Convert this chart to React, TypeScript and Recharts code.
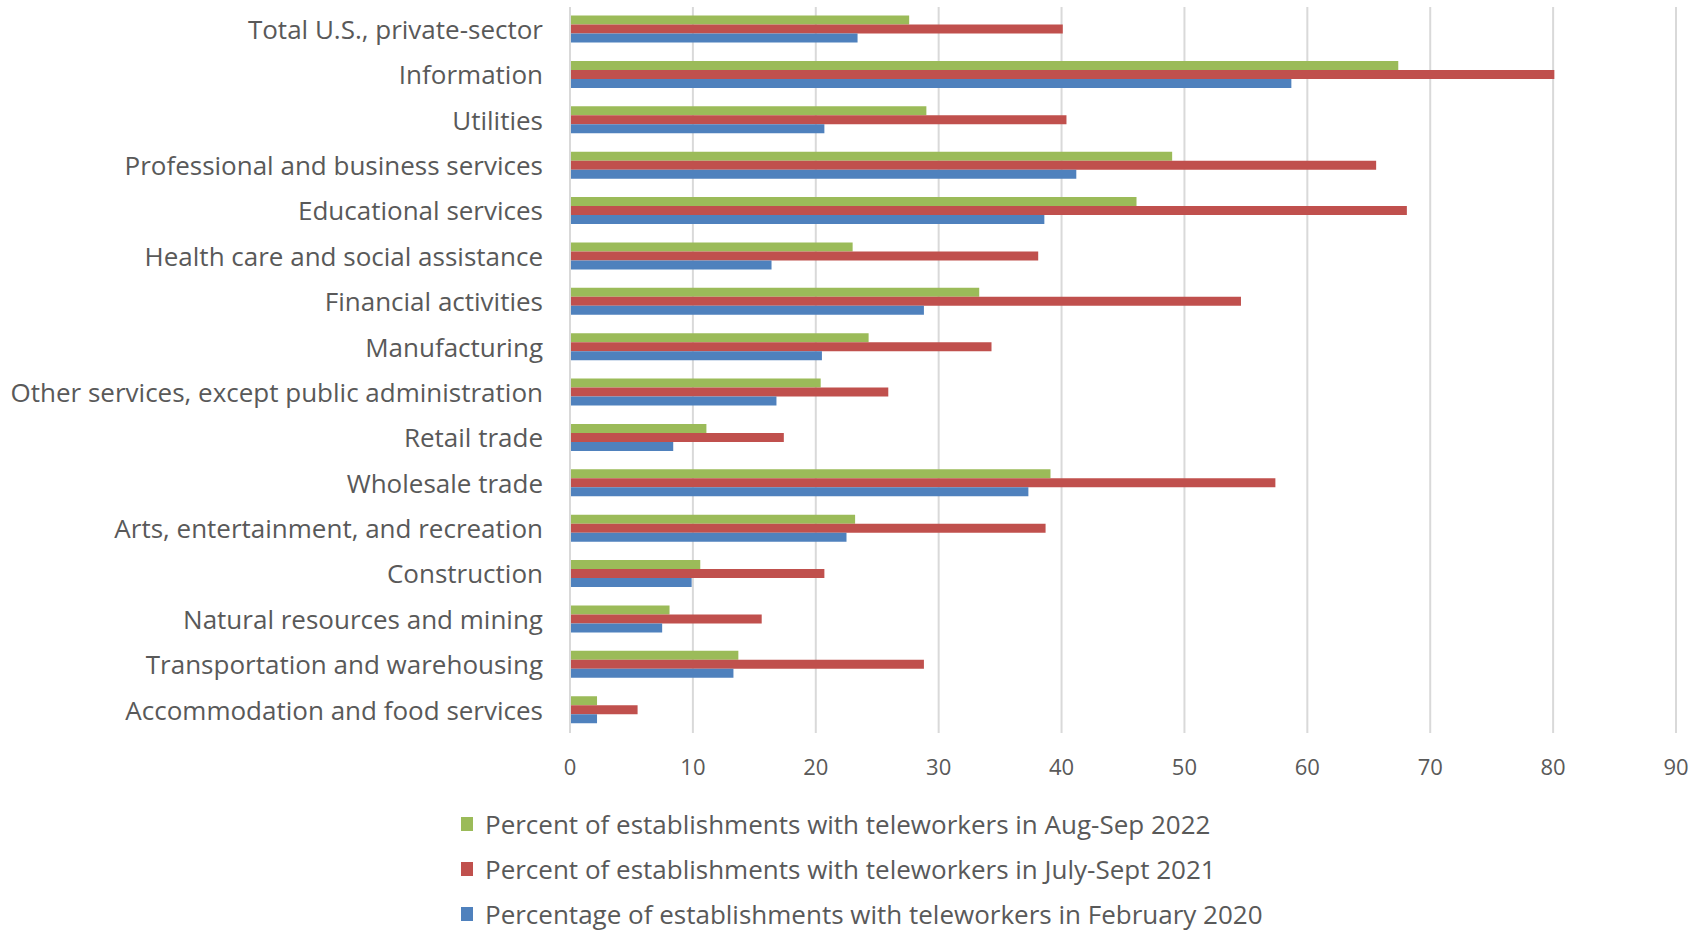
import React from 'react';
import {
  BarChart,
  Bar,
  XAxis,
  YAxis,
  CartesianGrid,
  Legend
} from 'recharts';

const categories = [
  'Total U.S., private-sector',
  'Information',
  'Utilities',
  'Professional and business services',
  'Educational services',
  'Health care and social assistance',
  'Financial activities',
  'Manufacturing',
  'Other services, except public administration',
  'Retail trade',
  'Wholesale trade',
  'Arts, entertainment, and recreation',
  'Construction',
  'Natural resources and mining',
  'Transportation and warehousing',
  'Accommodation and food services'
];

const aug2022 = [27.6, 67.4, 29.0, 49.0, 46.1, 23.0, 33.3, 24.3, 20.4, 11.1, 39.1, 23.2, 10.6, 8.1, 13.7, 2.2];
const jul2021 = [40.1, 80.1, 40.4, 65.6, 68.1, 38.1, 54.6, 34.3, 25.9, 17.4, 57.4, 38.7, 20.7, 15.6, 28.8, 5.5];
const feb2020 = [23.4, 58.7, 20.7, 41.2, 38.6, 16.4, 28.8, 20.5, 16.8, 8.4, 37.3, 22.5, 9.9, 7.5, 13.3, 2.2];

const xTicks = [0, 10, 20, 30, 40, 50, 60, 70, 80, 90];

const seriesNames = [
  'Percent of establishments with teleworkers in Aug-Sep 2022',
  'Percent of establishments with teleworkers in July-Sept 2021',
  'Percentage of establishments with teleworkers in February 2020'
];
const seriesColors = ['#9BBB59', '#C0504D', '#4F81BD'];

const data = categories.map((name, i) => ({
  name,
  aug2022: aug2022[i],
  jul2021: jul2021[i],
  feb2020: feb2020[i]
}));

const textColor = '#595959';

// legend rows stacked below the axis, like the source chart
const LegendBox = () => (
  <div style={{ height: 148, paddingLeft: 461, paddingTop: 12, boxSizing: 'border-box', fontFamily: 'Open Sans', color: textColor }}>
    {seriesNames.map((n, i) => (
      <div key={n} style={{ height: 45, display: 'flex', alignItems: 'center' }}>
        <span style={{ width: 12, height: 14, background: seriesColors[i], marginRight: 12, display: 'inline-block' }} />
        <span style={{ fontSize: 26, lineHeight: '30px', whiteSpace: 'nowrap' }}>{n}</span>
      </div>
    ))}
  </div>
);

const App: React.FC = () => {
  return (
    <div style={{ position: 'absolute', left: 0, top: 0, width: 1701, height: 937, background: '#fff', overflow: 'hidden' }}>
      <BarChart
        width={1701}
        height={937}
        data={data}
        layout="vertical"
        margin={{ top: 7, right: 25, left: 0, bottom: 0 }}
        barCategoryGap="19%"
        barGap={0}
      >
        <CartesianGrid horizontal={false} stroke="#D9D9D9" strokeWidth={2} />
        <XAxis
          type="number"
          domain={[0, 90]}
          ticks={xTicks}
          axisLine={false}
          tickLine={false}
          tickSize={0}
          tickMargin={26}
          height={56}
          tick={{ fill: textColor, fontSize: 22, fontFamily: 'Open Sans' }}
        />
        <YAxis
          type="category"
          dataKey="name"
          width={570}
          interval={0}
          axisLine={{ stroke: '#D9D9D9', strokeWidth: 2 }}
          tickLine={false}
          tickSize={0}
          tickMargin={27}
          tick={{ fill: textColor, fontSize: 26, fontFamily: 'Open Sans' }}
        />
        <Legend verticalAlign="bottom" align="left" content={() => <LegendBox />} />
        <Bar dataKey="aug2022" name={seriesNames[0]} fill={seriesColors[0]} isAnimationActive={false} />
        <Bar dataKey="jul2021" name={seriesNames[1]} fill={seriesColors[1]} isAnimationActive={false} />
        <Bar dataKey="feb2020" name={seriesNames[2]} fill={seriesColors[2]} isAnimationActive={false} />
      </BarChart>
    </div>
  );
};

export default App;
